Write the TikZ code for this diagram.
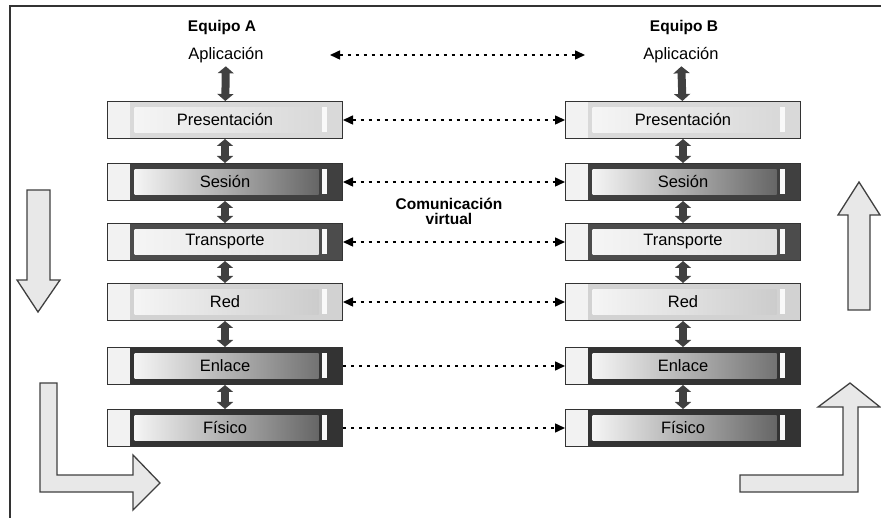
\documentclass[tikz,border=0pt]{standalone}
\usepackage{fontspec}
\setmainfont{Liberation Sans}
\usetikzlibrary{arrows.meta}

\begin{document}
\begin{tikzpicture}[x=1pt,y=-1pt,>={Triangle[length=10pt,width=9pt]},
nivel/.style 2 args={draw=black!80,line width=1pt,minimum width=235pt,minimum height=37pt,inner sep=0pt,
  font=\fontsize{16.5}{19}\selectfont,
  path picture={
    \fill[#1](path picture bounding box.south west)rectangle(path picture bounding box.north east);
    \fill[gray!10](path picture bounding box.south west)rectangle([xshift=22pt]path picture bounding box.north west);
    \shade[left color=gray!8,right color=#2]([xshift=27pt,yshift=6pt]path picture bounding box.south west)rectangle([xshift=-24pt,yshift=-6pt]path picture bounding box.north east);
    \fill[gray!5]([xshift=-21pt,yshift=6pt]path picture bounding box.south east)rectangle([xshift=-16pt,yshift=-6pt]path picture bounding box.north east);
  }},
titulo/.style={font=\bfseries\fontsize{15.5}{18}\selectfont},
texto/.style={font=\fontsize{16.5}{19}\selectfont},
paso/.style={line width=8pt,gray!50!black,{Triangle[length=7pt,width=16pt]}-{Triangle[length=7pt,width=16pt]}},
virt/.style={line width=1.5pt,dash pattern=on 3pt off 5pt},
flecha/.style={fill=gray!18,draw=black!75,line width=1.3pt,line join=miter}]
\useasboundingbox(0,0)rectangle(881,518);
\draw[line width=1.5pt,black!80](881,6)--(10,6)--(10,518);

\node[titulo](eqA)at(222,27){Equipo A};
\node[titulo](eqB)at(684,27){Equipo B};
\node[texto](apA)at(226,55){Aplicación};
\node[texto](apB)at(681,55){Aplicación};

\node[nivel={gray!30}{gray!30}](prA)at(225,120){Presentación};
\node[nivel={black!75}{black!60}](seA)at(225,182){Sesión};
\node[nivel={black!70}{gray!25}](trA)at(225,242){Transporte};
\node[nivel={gray!35}{gray!40}](reA)at(225,302){Red};
\node[nivel={black!80}{black!55}](enA)at(225,366){Enlace};
\node[nivel={black!80}{black!60}](fiA)at(225,428){Físico};

\node[nivel={gray!30}{gray!30}](prB)at(683,120){Presentación};
\node[nivel={black!75}{black!60}](seB)at(683,182){Sesión};
\node[nivel={black!70}{gray!25}](trB)at(683,242){Transporte};
\node[nivel={gray!35}{gray!40}](reB)at(683,302){Red};
\node[nivel={black!80}{black!55}](enB)at(683,366){Enlace};
\node[nivel={black!80}{black!60}](fiB)at(683,428){Físico};

\node[titulo,align=center](cv)at(449,211){Comunicación\\[-3pt]virtual};

\draw[paso](apA)--(prA);\draw[paso](prA)--(seA);\draw[paso](seA)--(trA);
\draw[paso](trA)--(reA);\draw[paso](reA)--(enA);\draw[paso](enA)--(fiA);
\draw[paso](apB)--(prB);\draw[paso](prB)--(seB);\draw[paso](seB)--(trB);
\draw[paso](trB)--(reB);\draw[paso](reB)--(enB);\draw[paso](enB)--(fiB);

\coordinate(apL)at(330,55);
\coordinate(apR)at(585,55);
\draw[virt,<->](apL)--(apR);
\draw[virt,<->](prA)--(prB);
\draw[virt,<->](seA)--(seB);
\draw[virt,<->](trA)--(trB);
\draw[virt,<->](reA)--(reB);
\draw[virt,->](enA)--(enB);
\draw[virt,->](fiA)--(fiB);

\draw[flecha](27,190)--(50,190)--(50,280)--(60,280)--(38,312)--(17,280)--(27,280)--cycle;
\draw[flecha](40,383)--(57,383)--(57,475)--(133,475)--(133,455)--(160,483)--(133,510)--(133,492)--(40,492)--cycle;
\draw[flecha](848,310)--(870,310)--(870,215)--(880,215)--(859,182)--(838,215)--(848,215)--cycle;
\draw[flecha](740,475)--(843,475)--(843,407)--(818,407)--(850,383)--(880,407)--(858,407)--(858,492)--(740,492)--cycle;
\end{tikzpicture}
\end{document}
